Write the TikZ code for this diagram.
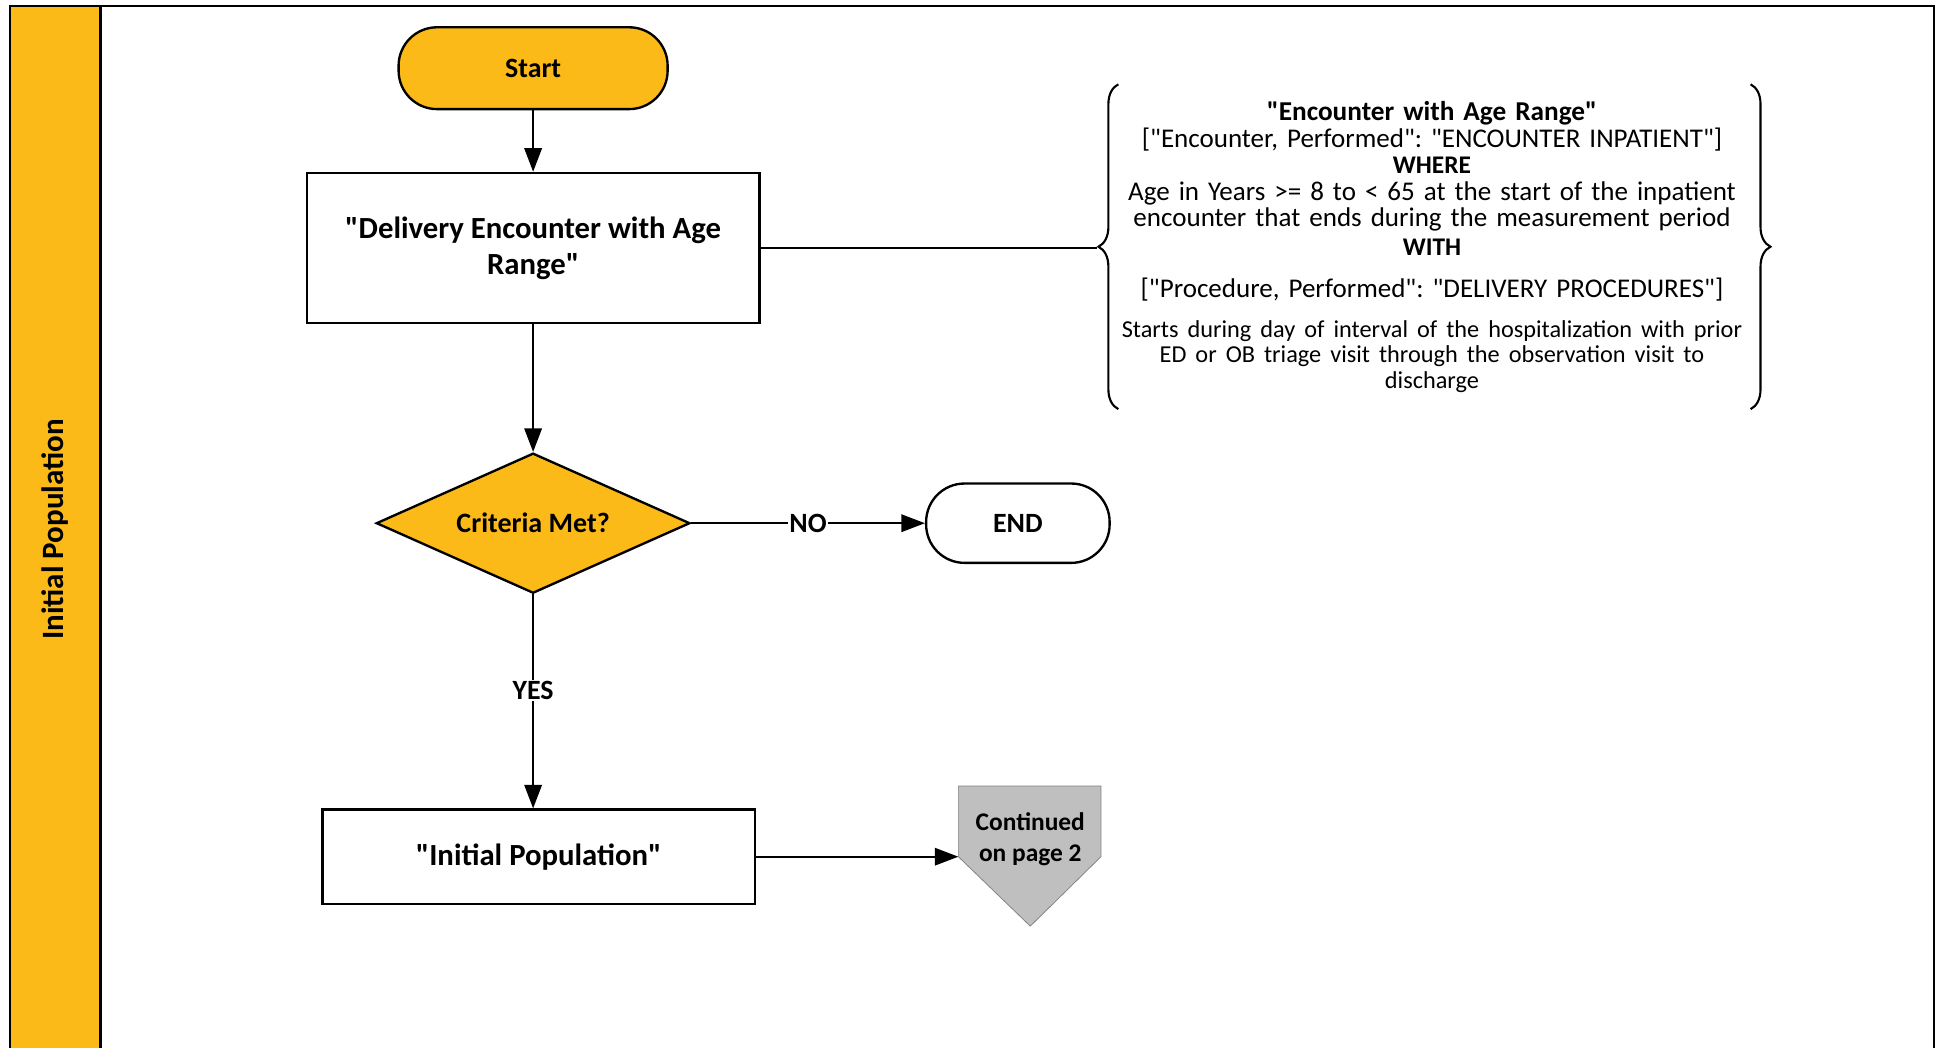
\documentclass[tikz,border=0pt]{standalone}
\usepackage{fontspec}
\setmainfont{Carlito}[Ligatures=TeXOff]
\usetikzlibrary{shapes.geometric,arrows.meta,decorations.pathreplacing,backgrounds}
\definecolor{lane}{RGB}{252,186,25}
\definecolor{contgrey}{RGB}{191,191,191}
\lineskiplimit=-20pt
\frenchspacing

\begin{document}
\begin{tikzpicture}[x=1pt,y=-1pt,
  block/.style={rectangle,draw,line width=1.9pt,align=center,font=\bfseries\fontsize{24.8}{29}\selectfont},
  term/.style={rectangle,draw,line width=1.9pt,rounded corners=31pt,font=\bfseries\fontsize{22.5}{26}\selectfont},
  decision/.style={diamond,draw,line width=1.9pt,fill=lane,inner sep=0pt,minimum width=253pt,minimum height=113pt,shape aspect=2.24,font=\bfseries\fontsize{22.6}{26}\selectfont},
  note/.style={text width=560pt,align=center,inner sep=0pt,font=\fontsize{21.8}{22}\selectfont},
  lbl/.style={fill=white,inner sep=1pt,font=\bfseries\fontsize{22.5}{26}\selectfont},
  arr/.style={-{Triangle[length=19pt,width=14pt]},line width=1.8pt}]
\def\yBot{845.3}
\useasboundingbox (0,0) rectangle (1568,\yBot);

% swim lane
\fill[lane] (8,5) rectangle (81,\yBot);
\draw[line width=2pt] (8,\yBot) -- (8,5) -- (1560,5) -- (1560,\yBot);
\draw[line width=2pt] (81,5) -- (81,\yBot);
\node[rotate=90,font=\bfseries\fontsize{25}{28}\selectfont] (lanename) at (44,427) {Initial Population};

\path
(430,55) node [term,fill=lane,minimum width=217pt,minimum height=66pt] (start) {Start}
(430,200) node [block,minimum width=365pt,minimum height=121pt] (deliv) {"Delivery Encounter with Age\\Range"}
(430,422) node [decision] (crit) {Criteria Met?}
(821,422) node [term,minimum width=148pt,minimum height=64pt] (end) {END}
(434.5,691) node [block,minimum width=349pt,minimum height=76pt] (initpop) {"Initial Population"}
(831,677) node [font=\bfseries\fontsize{20.5}{25}\selectfont,align=center] (cont) {Continued\\on page 2}
(1155,199) node [note] (note) {{\bfseries\fontsize{22}{22}\selectfont "Encounter with Age Range"}\\
{[}"Encounter, Performed": "ENCOUNTER INPATIENT"{]}\\[-1pt]
{\bfseries\fontsize{20.5}{22}\selectfont WHERE}\\
Age in Years >= 8 to < 65 at the start of the inpatient\\[-1pt]
encounter that ends during the measurement period\\[1pt]
{\bfseries\fontsize{20.5}{22}\selectfont WITH}\\[12pt]
{[}"Procedure, Performed": "DELIVERY PROCEDURES"{]}\\[11pt]
{\fontsize{19.6}{21}\selectfont Starts during day of interval of the hospitalization with prior\\[-1pt]
ED or OB triage visit through the observation visit to\\[-1pt]
discharge}}
;
\coordinate (braceL) at (885,200);
\coordinate (contW) at (773,691);

% off page connector
\begin{scope}[on background layer]
\draw[fill=contgrey,draw=gray,line width=0.6pt] (773,634) -- (888,634) -- (888,691) -- (831,747) -- (contW) -- cycle;
\end{scope}

% braces
\draw[line width=1.7pt,decorate,decoration={brace,amplitude=16pt}] (902,330) -- (902,68);
\draw[line width=1.7pt,decorate,decoration={brace,amplitude=16pt}] (1412,68) -- (1412,330);

\draw[arr] (start) -- (deliv);
\draw[arr] (deliv) -- (crit);
\draw[arr] (crit) -- node[lbl] {NO} (end);
\draw[arr] (crit.south) -- node[lbl,pos=0.45] {YES} (crit.south |- initpop.north);
\draw[arr] (initpop) -- (contW);
\draw[line width=1.8pt] (deliv) -- (braceL);
\end{tikzpicture}
\end{document}
